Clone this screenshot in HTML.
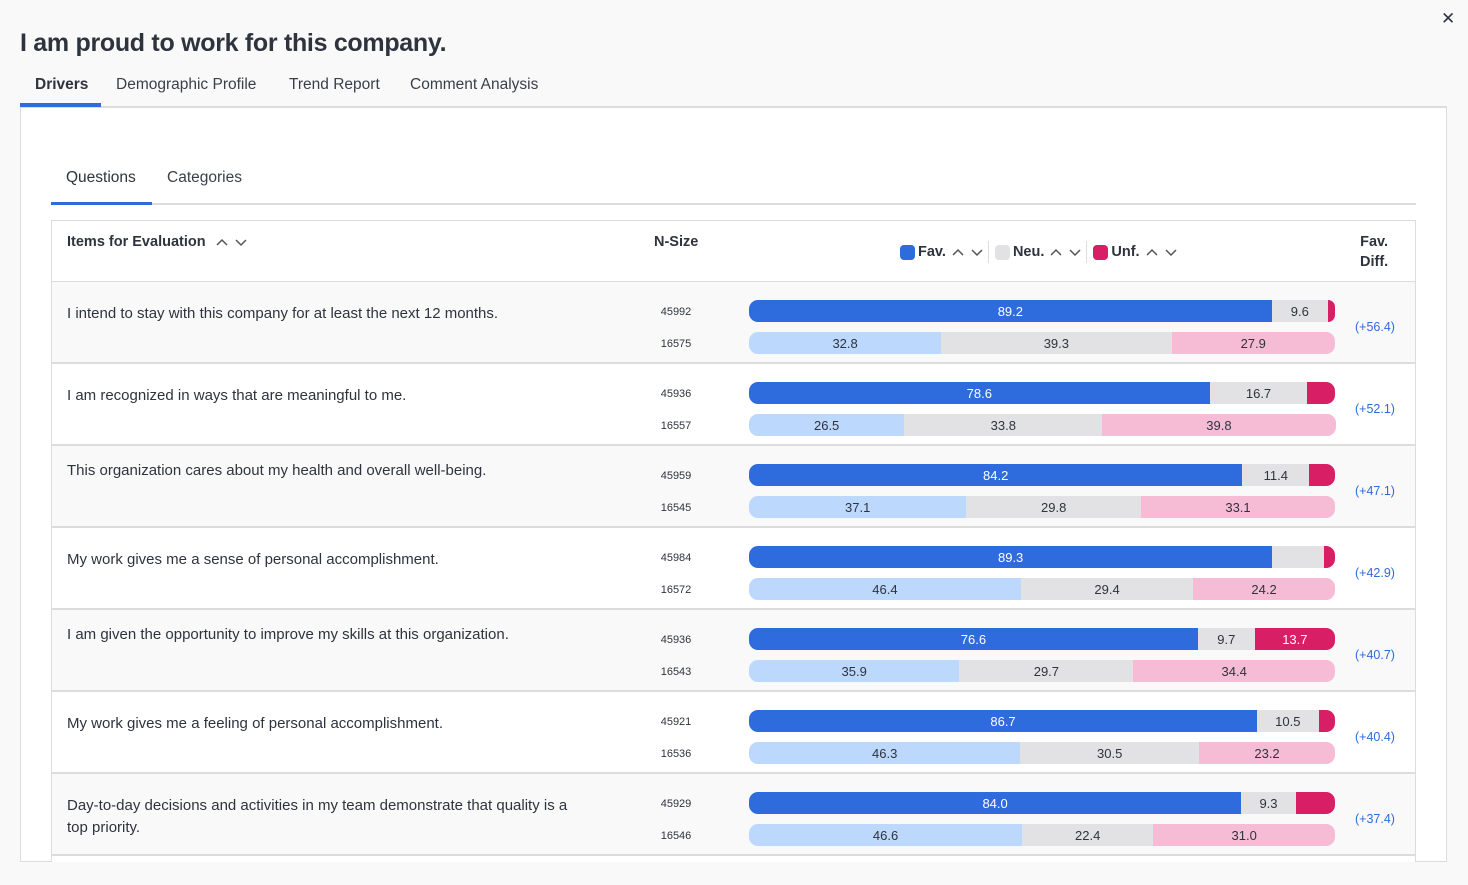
<!DOCTYPE html>
<html><head><meta charset="utf-8">
<style>
*{box-sizing:border-box;margin:0;padding:0}
body{width:1468px;height:885px;background:#f9f9f9;font-family:"Liberation Sans",sans-serif;color:#2e333d;position:relative;overflow:hidden}
.abs{position:absolute}
#title{left:20px;top:29px;font-size:25px;font-weight:bold;letter-spacing:-0.3px}
.tab{top:76px;font-size:15.5px;color:#3a3f4a}
#panel{left:20px;top:106px;width:1427px;height:756px;background:#fff;border:1px solid #dcdcdc;border-top:2px solid #dcdcdc;overflow:hidden}
.stab{top:169px;font-size:15.5px;color:#3a3f4a}
#table{left:51px;top:220px;width:1365px;height:642px;border:1px solid #dcdcdc;border-bottom:none;background:#fff}
.hdr{font-size:14.5px;font-weight:bold;color:#2e333d}
.row{position:absolute;left:52px;width:1363px;height:82px;border-bottom:2px solid #dcdcdc}
.q{position:absolute;left:15px;font-size:15px;color:#2e333d;line-height:22px;width:524px}
.n{position:absolute;font-size:11px;color:#2e333d;width:40px;text-align:center}
.seg{position:absolute;height:22px;font-size:13px;line-height:22px;text-align:center;overflow:hidden}
.diff{position:absolute;font-size:12.5px;color:#2e6bdc;width:60px;text-align:center}
svg.car{margin-left:6px;vertical-align:middle}
</style></head><body>
<div class="abs" style="left:1441px;top:9px;font-size:17px">✕</div>
<div id="title" class="abs">I am proud to work for this company.</div>
<div class="abs tab" style="left:35px;font-weight:bold;color:#2e333d">Drivers</div>
<div class="abs tab" style="left:116px">Demographic Profile</div>
<div class="abs tab" style="left:289px">Trend Report</div>
<div class="abs tab" style="left:410px">Comment Analysis</div>
<div id="panel" class="abs"></div>
<div class="abs" style="left:20px;top:103px;width:81px;height:4px;background:#2e6bdc"></div>
<div class="abs stab" style="left:66px;color:#2e333d">Questions</div>
<div class="abs stab" style="left:167px">Categories</div>
<div class="abs" style="left:51px;top:203px;width:1365px;height:2px;background:#dcdcdc"></div>
<div class="abs" style="left:51px;top:202px;width:101px;height:3px;background:#2e6bdc"></div>
<div id="table" class="abs"></div>
<div class="abs hdr" style="left:67px;top:234px">Items for Evaluation <svg class="car" width="32" height="10"><path d="M1 8 L6 3 L11 8 M20 3 L25 8 L30 3" fill="none" stroke="#555" stroke-width="1.5"/></svg></div>
<div class="abs hdr" style="left:654px;top:234px">N-Size</div>
<div class="abs hdr" style="left:900px;top:241px;display:flex;align-items:center">
 <span style="width:15px;height:15px;border-radius:4px;background:#2e6bdc;display:inline-block;margin-right:3px"></span><span>Fav.</span><svg class="car" width="32" height="10"><path d="M1 8 L6 3 L11 8 M20 3 L25 8 L30 3" fill="none" stroke="#555" stroke-width="1.5"/></svg>
 <span style="width:1px;height:22px;background:#ddd;margin:0 6px 0 4px"></span>
 <span style="width:15px;height:15px;border-radius:4px;background:#e2e2e5;display:inline-block;margin-right:3px"></span><span>Neu.</span><svg class="car" width="32" height="10"><path d="M1 8 L6 3 L11 8 M20 3 L25 8 L30 3" fill="none" stroke="#555" stroke-width="1.5"/></svg>
 <span style="width:1px;height:22px;background:#ddd;margin:0 6px 0 4px"></span>
 <span style="width:15px;height:15px;border-radius:4px;background:#d81f66;display:inline-block;margin-right:3px"></span><span>Unf.</span><svg class="car" width="32" height="10"><path d="M1 8 L6 3 L11 8 M20 3 L25 8 L30 3" fill="none" stroke="#555" stroke-width="1.5"/></svg>
</div>
<div class="abs hdr" style="left:1360px;top:232px;text-align:center;line-height:20px">Fav.<br>Diff.</div>
<div class="abs" style="left:52px;top:281px;width:1363px;height:2px;background:#dcdcdc"></div>
<div id="rows"></div>
<div class="abs" style="left:0;top:862px;width:1468px;height:23px;background:#f9f9f9"></div>
<script>
const questions=["I intend to stay with this company for at least the next 12 months.","I am recognized in ways that are meaningful to me.","This organization cares about my health and overall well-being.","My work gives me a sense of personal accomplishment.","I am given the opportunity to improve my skills at this organization.","My work gives me a feeling of personal accomplishment.","Day-to-day decisions and activities in my team demonstrate that quality is a top priority."];
const nTop=[45992,45936,45959,45984,45936,45921,45929];
const nBot=[16575,16557,16545,16572,16543,16536,16546];
const favTop=[89.2,78.6,84.2,89.3,76.6,86.7,84.0];
const neuTop=[9.6,16.7,11.4,8.9,9.7,10.5,9.3];
const unfTop=[1.2,4.7,4.4,1.8,13.7,2.8,6.7];
const favBot=[32.8,26.5,37.1,46.4,35.9,46.3,46.6];
const neuBot=[39.3,33.8,29.8,29.4,29.7,30.5,22.4];
const unfBot=[27.9,39.8,33.1,24.2,34.4,23.2,31.0];
const diffs=["+56.4","+52.1","+47.1","+42.9","+40.7","+40.4","+37.4"];
const qTop=[313,395,470,559,634,723,805];
const X0=749,W=586;
const x=v=>v/100*W;
const rows=document.getElementById('rows');
questions.forEach((q,i)=>{
 const top=282+i*82;
 const r=document.createElement('div');r.className='row';r.style.top=top+'px';
 r.style.background=i%2==0?'#f9f9f9':'#fff';
 
 
 r.innerHTML=`<div class="q" style="top:${qTop[i]-top-10}px">${q}</div>`;
 rows.appendChild(r);
 const qd=r.firstChild;
 
 
 [[nTop[i],30,[favTop[i],neuTop[i],unfTop[i]],['#2e6bdc','#e2e2e5','#d81f66'],['#fff','#2e333d','#fff']],
  [nBot[i],62,[favBot[i],neuBot[i],unfBot[i]],['#bcd8fd','#e2e2e5','#f7bcd5'],['#2e333d','#2e333d','#2e333d']]].forEach((b,k)=>{
  const n=document.createElement('div');n.className='n';n.textContent=b[0];
  n.style.left=(656-52)+'px';n.style.top=(b[1]-6)+'px';
  
  
  r.appendChild(n);
  let acc=0;
  b[2].forEach((v,j)=>{
   const s=document.createElement('div');s.className='seg';
   s.style.left=(X0-52+x(acc))+'px';s.style.width=x(v)+'px';s.style.top=(b[1]-12)+'px';
   s.style.background=b[3][j];s.style.color=b[4][j];s.style.lineHeight='24px';
   if(j==0)s.style.borderRadius='9px 0 0 9px';
   if(j==2)s.style.borderRadius='0 9px 9px 0';
   if(v>=9)s.textContent=v.toFixed(1);
   
   
   r.appendChild(s);acc+=v;
  });
 });
 const d=document.createElement('div');d.className='diff';d.textContent='('+diffs[i]+')';
 d.style.left=(1345-52)+'px';d.style.top='38px';
 
 
 r.appendChild(d);
});
</script>
</body></html>
